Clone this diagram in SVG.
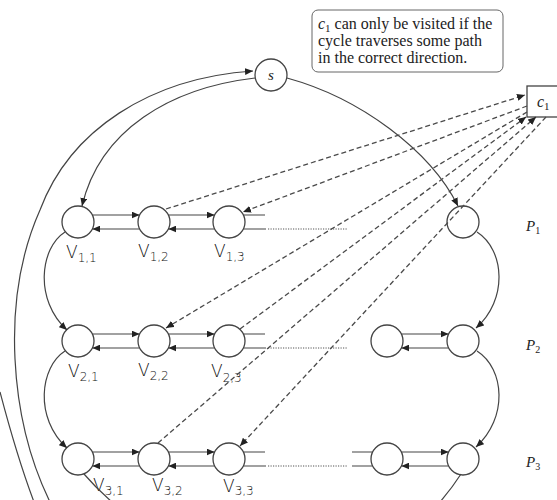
<svg xmlns="http://www.w3.org/2000/svg" width="557" height="500" viewBox="0 0 557 500">
  <defs>
    <marker id="arrow" markerUnits="userSpaceOnUse" markerWidth="9" markerHeight="7" refX="8" refY="3.5" orient="auto">
      <path d="M0,0 L8,3.5 L0,7 z" fill="#222"/>
    </marker>
    <style>
      .node { fill: #fff; stroke: #444; stroke-width: 1.3; }
      .edge { fill: none; stroke: #444; stroke-width: 1.2; }
      .arr { marker-end: url(#arrow); }
      .dash { fill: none; stroke: #4a4a4a; stroke-width: 1.3; stroke-dasharray: 5 3; }
      .dots { fill: none; stroke: #555; stroke-width: 1.2; stroke-dasharray: 1.2 1.3; }
      .serif { font-family: "Liberation Serif", "DejaVu Serif", serif; fill: #222; }
      .hand { font-family: "DejaVu Sans", "Liberation Sans", sans-serif; font-weight: 300; fill: #111; }
    </style>
  </defs>
  <rect width="557" height="500" fill="#fff"/>

  <!-- note box -->
  <g id="note">
    <rect x="312" y="10" width="191" height="62" rx="6" fill="#fff" stroke="#666" stroke-width="1"/>
    <text class="serif" font-size="16" x="318" y="29"><tspan font-style="italic">c</tspan><tspan font-size="11" dy="3">1</tspan><tspan dy="-3"> can only be visited if the</tspan></text>
    <text class="serif" font-size="16" x="318" y="46">cycle traverses some path</text>
    <text class="serif" font-size="16" x="318" y="63">in the correct direction.</text>
  </g>

  <!-- clause node -->
  <g id="c1">
    <rect x="527" y="86" width="34" height="31" fill="#fff" stroke="#444" stroke-width="1.3"/>
    <text class="serif" font-size="16" x="537" y="107"><tspan font-style="italic">c</tspan><tspan font-size="11" dy="3">1</tspan></text>
  </g>

  <!-- source -->
  <g id="s">
    <circle class="node" cx="271" cy="75" r="16"/>
    <text class="serif" font-size="15" font-style="italic" x="271" y="80" text-anchor="middle">s</text>
  </g>

  <!-- path P1 -->
  <g id="v11"><circle class="node" cx="78" cy="222" r="16"/>
    <text class="hand" x="66" y="258" font-size="17">V<tspan font-size="12" dy="4">1,1</tspan></text></g>
  <g id="v12"><circle class="node" cx="154" cy="222" r="16"/>
    <text class="hand" x="138" y="257" font-size="17">V<tspan font-size="12" dy="4">1,2</tspan></text></g>
  <g id="v13"><circle class="node" cx="229" cy="222" r="16"/>
    <text class="hand" x="214" y="257" font-size="17">V<tspan font-size="12" dy="4">1,3</tspan></text></g>
  <g id="v1n"><circle class="node" cx="463" cy="222" r="16"/></g>

  <!-- path P2 -->
  <g id="v21"><circle class="node" cx="78" cy="341" r="16"/>
    <text class="hand" x="68" y="377" font-size="17">V<tspan font-size="12" dy="4">2,1</tspan></text></g>
  <g id="v22"><circle class="node" cx="154" cy="341" r="16"/>
    <text class="hand" x="138" y="376" font-size="17">V<tspan font-size="12" dy="4">2,2</tspan></text></g>
  <g id="v23"><circle class="node" cx="229" cy="341" r="16"/>
    <text class="hand" x="211" y="377" font-size="17">V<tspan font-size="12" dy="5">2,3</tspan></text></g>
  <g id="v2m"><circle class="node" cx="387" cy="341" r="16"/></g>
  <g id="v2n"><circle class="node" cx="463" cy="341" r="16"/></g>

  <!-- path P3 -->
  <g id="v31"><circle class="node" cx="78" cy="459" r="16"/>
    <text class="hand" x="93" y="491" font-size="17">V<tspan font-size="12" dy="4">3,1</tspan></text></g>
  <g id="v32"><circle class="node" cx="154" cy="459" r="16"/>
    <text class="hand" x="152" y="491" font-size="17">V<tspan font-size="12" dy="4">3,2</tspan></text></g>
  <g id="v33"><circle class="node" cx="229" cy="459" r="16"/>
    <text class="hand" x="223" y="492" font-size="17">V<tspan font-size="12" dy="3">3,3</tspan></text></g>
  <g id="v3m"><circle class="node" cx="387" cy="459" r="16"/></g>
  <g id="v3n"><circle class="node" cx="463" cy="459" r="16"/></g>

  <!-- row labels -->
  <g id="labels">
    <text class="serif" font-size="15" x="526" y="231"><tspan font-style="italic">P</tspan><tspan font-size="10" dy="3">1</tspan></text>
    <text class="serif" font-size="15" x="526" y="350"><tspan font-style="italic">P</tspan><tspan font-size="10" dy="3">2</tspan></text>
    <text class="serif" font-size="15" x="526" y="467"><tspan font-style="italic">P</tspan><tspan font-size="10" dy="3">3</tspan></text>
  </g>

  <g id="connectors">
    <!-- outer return arcs, and s to both ends of P1 -->
    <path class="edge arr" d="M50,502 C10,420 0,300 40,210 C70,130 150,78 253,71"/>
    <path class="edge" d="M0,392 C10,430 20,465 34,502"/>
    <path class="edge arr" d="M255,78 C170,88 100,130 82,206"/>
    <path class="edge arr" d="M287,78 C360,98 430,150 458,206"/>

    <!-- P1 horizontal pairs -->
    <path class="edge arr" d="M92.4,215 H139.6"/>
    <path class="edge arr" d="M139.6,229 H92.4"/>
    <path class="edge arr" d="M168.4,215 H214.6"/>
    <path class="edge arr" d="M214.6,229 H168.4"/>
    <path class="edge" d="M243.4,215 H265 M243.4,229 H266"/>
    <path class="dots" d="M268,229 H347"/>

    <!-- P2 horizontal pairs -->
    <path class="edge arr" d="M92.4,334 H139.6"/>
    <path class="edge arr" d="M139.6,348 H92.4"/>
    <path class="edge arr" d="M168.4,334 H214.6"/>
    <path class="edge arr" d="M214.6,348 H168.4"/>
    <path class="edge" d="M243.4,334 H265 M243.4,348 H266"/>
    <path class="dots" d="M268,348 H347"/>
    <path class="edge arr" d="M401.4,334 H448.6"/>
    <path class="edge arr" d="M448.6,348 H401.4"/>

    <!-- P3 horizontal pairs -->
    <path class="edge arr" d="M92.4,452 H139.6"/>
    <path class="edge arr" d="M139.6,466 H92.4"/>
    <path class="edge arr" d="M168.4,452 H214.6"/>
    <path class="edge arr" d="M214.6,466 H168.4"/>
    <path class="edge" d="M243.4,452 H265 M243.4,466 H266"/>
    <path class="dots" d="M268,466 H347"/>
    <path class="edge" d="M352,452 H372.6 M352,466 H372.6"/>
    <path class="edge arr" d="M401.4,452 H448.6"/>
    <path class="edge arr" d="M448.6,466 H401.4"/>

    <!-- links between consecutive paths -->
    <path class="edge arr" d="M65,232 C40,248 34,300 67,330"/>
    <path class="edge arr" d="M65,351 C40,367 34,418 67,448"/>
    <path class="edge arr" d="M477,232 C505,250 508,300 476,328"/>
    <path class="edge arr" d="M477,351 C505,369 508,418 476,447"/>

    <!-- exits of P3 -->
    <path class="edge" d="M84,474 Q96,488 112,502"/>
    <path class="edge" d="M461,474 Q452,488 440,502"/>

    <!-- clause edges -->
    <path class="dash arr" d="M166,209 L525,95"/>
    <path class="dash arr" d="M527,106 L243,212"/>
    <path class="dash arr" d="M527,112 L166,328"/>
    <path class="dash arr" d="M240,329 L526,117"/>
    <path class="dash arr" d="M158,443 L536,117"/>
    <path class="dash arr" d="M546,117 L240,446"/>
  </g>
</svg>
